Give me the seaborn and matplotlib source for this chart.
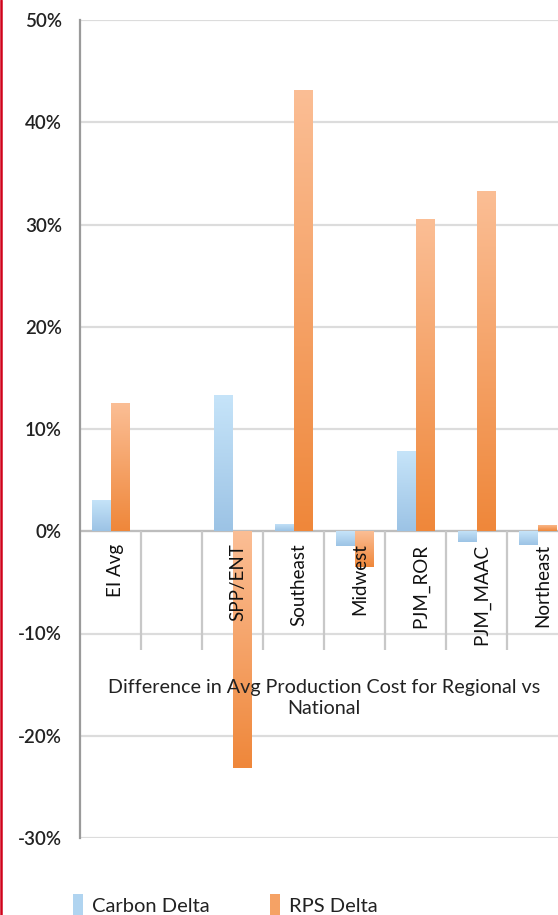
import numpy as np
import pandas as pd
import matplotlib
matplotlib.use("Agg")
import matplotlib.pyplot as plt
import matplotlib.ticker as ticker
from matplotlib.colors import LinearSegmentedColormap
from matplotlib.lines import Line2D
from matplotlib.patches import Patch
import seaborn as sns

# ── data ──────────────────────────────────────────────────────────────
regions       = ["EI Avg", " ", "SPP/ENT", "Southeast", "Midwest",
                 "PJM_ROR", "PJM_MAAC", "Northeast"]
carbon_delta  = [0.031, np.nan, 0.133, 0.007, -0.014, 0.078, -0.011, -0.013]
rps_delta     = [0.125, np.nan, -0.232, 0.432, -0.035, 0.305, 0.333, 0.006]
series_names  = ["Carbon Delta", "RPS Delta"]
title_text    = "Difference in Avg Production Cost for Regional vs\nNational"
yticks        = [-0.3, -0.2, -0.1, 0.0, 0.1, 0.2, 0.3, 0.4, 0.5]

df = pd.DataFrame({
    "region": regions * 2,
    "series": [series_names[0]] * len(regions) + [series_names[1]] * len(regions),
    "value":  carbon_delta + rps_delta,
})

sns.set_style("white")
plt.rcParams["font.family"] = ["Lato", "DejaVu Sans"]

TXT = "#222222"
cmaps = {
    "Carbon Delta": LinearSegmentedColormap.from_list("c", ["#9cc3e5", "#c6e4f9"]),
    "RPS Delta":    LinearSegmentedColormap.from_list("r", ["#ef873a", "#fbbe95"]),
}
solid = {"Carbon Delta": "#b0d4f0", "RPS Delta": "#f5a265"}

fig = plt.figure(figsize=(5.58, 9.15), dpi=100)
ax = fig.add_axes([80 / 558, 1 - 838 / 915, 488 / 558, 818 / 915])

sns.barplot(data=df, x="region", y="value", hue="series", order=regions,
            hue_order=series_names, palette=solid, width=0.6, ax=ax,
            legend=False, errorbar=None, saturation=1)

# gradient fill on every bar
grad = np.linspace(0, 1, 256).reshape(-1, 1)
for name, cont in zip(series_names, ax.containers):
    for bar in cont:
        h = bar.get_height()
        if not np.isfinite(h) or h == 0:
            continue
        x0, w = bar.get_x(), bar.get_width()
        y0 = bar.get_y()
        lo, hi = min(y0, y0 + h), max(y0, y0 + h)
        im = ax.imshow(grad, extent=[x0, x0 + w, lo, hi], origin="lower",
                       aspect="auto", cmap=cmaps[name], zorder=3)
        im.set_clip_path(bar)
        bar.set_facecolor("none")
        bar.set_edgecolor("none")

ax.set_xlim(-0.5, len(regions) - 0.5)
ax.set_ylim(-0.3, 0.5)
ax.set_yticks(yticks)
ax.yaxis.set_major_formatter(ticker.FuncFormatter(lambda v, _: f"{v*100:.0f}%"))
ax.tick_params(axis="y", direction="out", length=7, width=1.3, color="#a0a0a0",
               labelsize=13.5, labelcolor=TXT, pad=6)
for t in ax.get_yticklabels():
    t.set_fontweight("semibold")
ax.set_xticks([])
ax.set_xlabel("")
ax.set_ylabel("")
ax.yaxis.grid(True, color="#dcdcdc", lw=1.6)
ax.set_axisbelow(True)
for s in ["top", "right", "bottom"]:
    ax.spines[s].set_visible(False)
ax.spines["left"].set_color("#9a9a9a")
ax.spines["left"].set_linewidth(1.6)

# zero line, separators and category labels hanging below zero
ax.axhline(0, color="#bdbdbd", lw=1.6, zorder=2)
ax.vlines(np.arange(len(regions)) + 0.5, -0.116, 0, color="#c8c8c8", lw=1.6, zorder=2)
for i, lab in enumerate(regions):
    ax.text(i + 0.08, -0.012, lab.strip(), rotation=90, ha="center", va="top",
            fontsize=13.5, color="#111111", zorder=4)

fig.text(324 / 558, 1 - 698 / 915, title_text, ha="center", va="center",
         fontsize=14.2, color=TXT, linespacing=1.3)

handles = [Patch(facecolor=solid[n], edgecolor="none") for n in series_names]
fig.legend(handles, series_names, ncol=2, frameon=False, loc="lower left",
           bbox_to_anchor=(55 / 558, -0.022), fontsize=14.5, handlelength=0.5,
           handleheight=1.4, handletextpad=0.45, columnspacing=3.0,
           labelcolor=TXT)

# red border at the left edge
fig.add_artist(Line2D([0.002, 0.002], [0, 1], color="#d0021b", lw=1.8))

fig.savefig("out.png", dpi=100)
